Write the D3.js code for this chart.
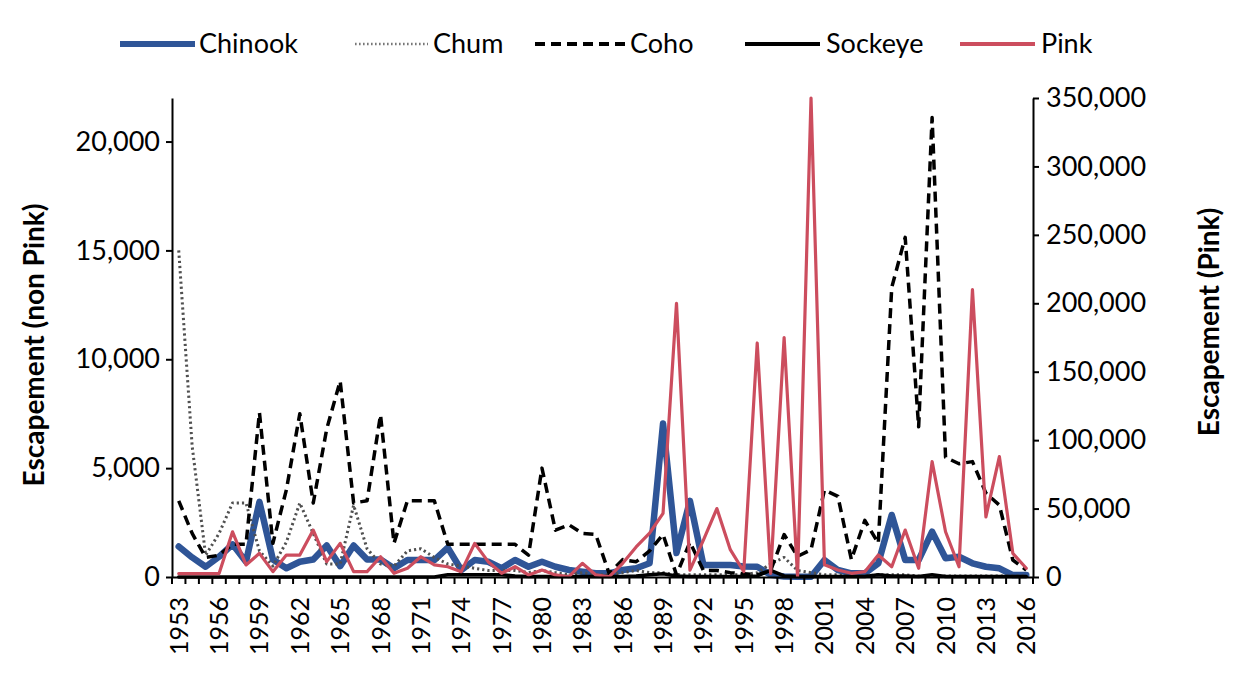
<!DOCTYPE html>
<html>
<head>
<meta charset="utf-8">
<script src="https://cdn.jsdelivr.net/npm/d3@7"></script>
<style>
  body { margin: 0; background: #fff; }
  svg { display: block; }
  text { font-family: Lato, "Open Sans", sans-serif; fill: #000; }
</style>
</head>
<body>
<svg id="chart" width="1233" height="681"></svg>
<script>
// Annual escapement by species, 1953–2016
const years = [1953,1954,1955,1956,1957,1958,1959,1960,1961,1962,1963,1964,1965,1966,1967,1968,
  1969,1970,1971,1972,1973,1974,1975,1976,1977,1978,1979,1980,1981,1982,1983,1984,
  1985,1986,1987,1988,1989,1990,1991,1992,1993,1994,1995,1996,1997,1998,1999,2000,
  2001,2002,2003,2004,2005,2006,2007,2008,2009,2010,2011,2012,2013,2014,2015,2016];

const chinook = [1400,900,470,930,1500,700,3450,800,400,700,800,1450,500,1450,800,800,
  400,780,780,780,1350,320,780,700,400,780,470,700,470,320,240,170,
  170,320,400,630,7050,1100,3500,550,550,550,480,470,100,20,10,10,
  780,320,170,170,630,2850,780,780,2080,860,930,630,470,400,90,90];

const chum = [15000,6000,1000,2000,3400,3400,1200,500,1600,3400,2000,600,600,3300,1300,600,
  500,1200,1300,900,600,500,400,300,300,300,200,300,200,100,200,100,
  100,200,300,200,200,100,100,100,100,100,100,200,600,900,300,200,
  100,100,50,50,100,100,100,50,50,50,50,50,50,50,50,50];

const coho = [3500,2000,900,1000,1500,1500,7550,1550,4000,7500,3400,6800,9000,3400,3500,7450,
  1550,3500,3500,3500,1500,1500,1500,1500,1500,1500,1000,5000,2150,2400,2000,1950,
  150,800,700,1200,1950,100,1600,300,300,200,150,100,300,1950,950,1250,
  4000,3700,800,2600,1550,13300,15600,6900,21100,5500,5200,5300,3850,3300,780,320];

const sockeye = [0,0,0,0,0,0,0,0,0,0,0,0,0,0,0,0,
  0,0,0,0,100,100,100,100,100,50,20,20,20,20,20,20,
  20,20,50,100,150,50,20,20,20,20,20,50,300,50,20,20,
  20,20,20,20,100,50,50,20,100,20,20,20,20,20,20,20];

const pink = [2500,2500,2500,2500,33000,8800,17300,3900,16000,16000,34300,11200,24600,3900,3900,14800,
  2700,6400,14800,8800,7500,3900,24600,11200,2700,7500,1500,5100,1500,200,10000,1500,
  200,10000,22000,32000,46500,200000,5000,27000,50000,20000,4000,171000,2700,175000,300,350000,
  9000,5100,2700,3900,16100,7500,34300,6400,84300,33100,7500,210000,44000,88000,17300,6400];

const leftTicks = [0, 5000, 10000, 15000, 20000];
const rightTicks = [0, 50000, 100000, 150000, 200000, 250000, 300000, 350000];
const yearLabels = years.filter((d, i) => i % 3 === 0);

const speciesNames = ["Chinook", "Chum", "Coho", "Sockeye", "Pink"];

// ---- layout ----
const svg = d3.select("#chart");
const plotLeft = 172, plotRight = 1033, plotTop = 98, plotBottom = 577;

const x = d3.scaleBand().domain(years).range([plotLeft, plotRight]).padding(0);
const cx = yr => x(yr) + x.bandwidth() / 2;
const yL = d3.scaleLinear().domain([0, 22000]).range([plotBottom, plotTop]);
const yR = d3.scaleLinear().domain([0, 350000]).range([plotBottom, plotTop]);

const fmt = d3.format(",");

const styles = {
  Chinook: { stroke: "#2F5597", width: 6.5, dash: null, cap: "round" },
  Chum:    { stroke: "#505050", width: 3, dash: "2.2,3", cap: "butt" },
  Coho:    { stroke: "#000", width: 3.5, dash: "10,6", cap: "butt" },
  Sockeye: { stroke: "#000", width: 3.5, dash: null, cap: "round" },
  Pink:    { stroke: "#CC4D5E", width: 3.2, dash: null, cap: "round" }
};

// ---- series ----
const series = [
  { name: "Chinook", values: chinook, y: yL },
  { name: "Chum", values: chum, y: yL },
  { name: "Coho", values: coho, y: yL },
  { name: "Sockeye", values: sockeye, y: yL },
  { name: "Pink", values: pink, y: yR }
];

const gLines = svg.append("g");
series.forEach(s => {
  const line = d3.line()
    .x((d, i) => cx(years[i]))
    .y(d => s.y(d));
  const st = styles[s.name];
  gLines.append("path")
    .datum(s.values)
    .attr("d", line)
    .attr("fill", "none")
    .attr("stroke", st.stroke)
    .attr("stroke-width", st.width)
    .attr("stroke-linejoin", "round")
    .attr("stroke-linecap", st.cap)
    .attr("stroke-dasharray", st.dash);
});

// ---- axes ----
const axisLeft = svg.append("g")
  .attr("transform", `translate(${plotLeft},0)`)
  .call(d3.axisLeft(yL).tickValues(leftTicks).tickFormat(fmt).tickSize(6).tickSizeOuter(0).tickPadding(6));

const axisRight = svg.append("g")
  .attr("transform", `translate(${plotRight},0)`)
  .call(d3.axisRight(yR).tickValues(rightTicks).tickFormat(fmt).tickSize(6).tickSizeOuter(0).tickPadding(7));

const axisBottom = svg.append("g")
  .attr("transform", `translate(0,${plotBottom})`)
  .call(d3.axisBottom(x).tickValues(yearLabels).tickSize(0).tickSizeOuter(0));

// category boundary tick marks
const bounds = years.map(yr => x(yr)).concat([x(years[years.length - 1]) + x.bandwidth()]);
axisBottom.selectAll(".bound")
  .data(bounds)
  .join("line")
  .attr("class", "bound")
  .attr("x1", d => d).attr("x2", d => d)
  .attr("y1", 0).attr("y2", 7)
  .attr("stroke", "#000").attr("stroke-width", 2);

axisBottom.selectAll(".tick text")
  .attr("transform", "rotate(-90)")
  .attr("x", -20)
  .attr("y", 0)
  .attr("dy", "0.36em")
  .style("text-anchor", "end")
  .style("font-size", "25px");

[axisLeft, axisRight, axisBottom].forEach(g => {
  g.select(".domain").attr("stroke", "#000").attr("stroke-width", 2);
  g.selectAll(".tick line").attr("stroke", "#000").attr("stroke-width", 2);
  g.selectAll("text").attr("font-family", null);
});
axisLeft.selectAll(".tick text").style("font-size", "27px");
axisRight.selectAll(".tick text").style("font-size", "27px");

// ---- axis titles ----
svg.append("text")
  .attr("transform", "translate(44,345) rotate(-90)")
  .attr("text-anchor", "middle")
  .style("font-size", "28px").style("font-weight", "bold")
  .text("Escapement (non Pink)");

svg.append("text")
  .attr("transform", "translate(1219,322) rotate(-90)")
  .attr("text-anchor", "middle")
  .style("font-size", "28px").style("font-weight", "bold")
  .text("Escapement (Pink)");

// ---- legend ----
const legendY = 44;
const legendPos = {
  Chinook: [120, 195, 199],
  Chum:    [355, 428, 433],
  Coho:    [535, 625, 630],
  Sockeye: [745, 820, 826],
  Pink:    [960, 1035, 1041]
};
const gLegend = svg.append("g");
speciesNames.forEach(name => {
  const st = styles[name];
  const [a, b, t] = legendPos[name];
  gLegend.append("line")
    .attr("x1", a).attr("x2", b).attr("y1", legendY).attr("y2", legendY)
    .attr("stroke", name === "Chum" ? "#777" : st.stroke)
    .attr("stroke-width", name === "Chinook" ? 6 : (name === "Chum" ? 2.4 : 4))
    .attr("stroke-dasharray", name === "Chum" ? "1.6,2.4" : st.dash)
    .attr("stroke-linecap", "butt");
  gLegend.append("text")
    .attr("x", t).attr("y", legendY)
    .attr("dy", "0.35em")
    .style("font-size", "27px")
    .text(name);
});
</script>
</body>
</html>
